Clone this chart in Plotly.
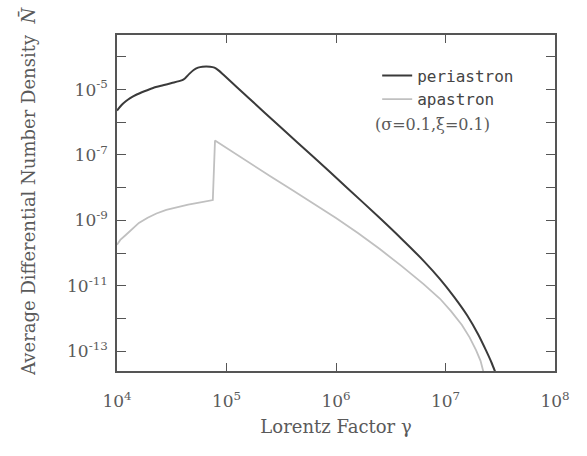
import numpy as np
import plotly.graph_objects as go

# values, as log10 exponents
peri_log_gamma = [4.0, 4.04, 4.08, 4.12, 4.18, 4.25, 4.33, 4.42, 4.5, 4.59, 4.62, 4.66, 4.70, 4.74,
                  4.78, 4.85, 4.89, 4.93, 4.97, 5.2, 5.5, 5.8, 6.1, 6.4, 6.6, 6.8, 6.95, 7.08,
                  7.2, 7.3, 7.37, 7.42, 7.452]
peri_log_N = [-5.64, -5.48, -5.36, -5.26, -5.15, -5.05, -4.95, -4.87, -4.80, -4.72, -4.66, -4.52, -4.40, -4.33,
              -4.30, -4.30, -4.33, -4.42, -4.54, -5.25, -6.17, -7.08, -8.0, -8.93, -9.57, -10.24, -10.8, -11.35,
              -11.92, -12.5, -12.98, -13.35, -13.62]

apa_log_gamma = [4.0, 4.03, 4.08, 4.14, 4.2, 4.28, 4.36, 4.45, 4.55, 4.65, 4.75, 4.85, 4.875,
                 4.895, 5.0, 5.2, 5.4, 5.6, 5.8, 6.0, 6.2, 6.4, 6.6, 6.8, 6.95, 7.05, 7.15,
                 7.22, 7.28, 7.32, 7.345]
apa_log_N = [-9.75, -9.6, -9.45, -9.25, -9.08, -8.92, -8.79, -8.68, -8.59, -8.52, -8.46, -8.40, -8.38,
             -6.56, -6.79, -7.22, -7.65, -8.07, -8.49, -8.93, -9.39, -9.88, -10.40, -10.95, -11.40, -11.78, -12.2,
             -12.58, -12.98, -13.3, -13.62]

x_tick_exps = [4, 5, 6, 7, 8]
y_tick_exps = [-4, -5, -6, -7, -8, -9, -10, -11, -12, -13]
y_labeled = [-5, -7, -9, -11, -13]

def p10(v):
    return np.power(10.0, np.array(v, dtype=float))

axis_col = "#555555"
text_col = "#5a5a5a"
serif = "DejaVu Serif, serif"

fig = go.Figure()
fig.add_trace(go.Scatter(x=p10(peri_log_gamma), y=p10(peri_log_N), mode="lines",
                         name="periastron", line=dict(color="#3a3a3a", width=2, shape="spline", smoothing=0.6)))
fig.add_trace(go.Scatter(x=p10(apa_log_gamma), y=p10(apa_log_N), mode="lines",
                         name="apastron", line=dict(color="#c0c0c0", width=1.8)))

fig.update_layout(
    width=587, height=456,
    margin=dict(l=117, r=32, t=35, b=85),
    paper_bgcolor="white", plot_bgcolor="white",
    showlegend=True,
    legend=dict(x=0.594, y=0.93, xanchor="left", yanchor="top",
                bgcolor="rgba(0,0,0,0)",
                font=dict(family="DejaVu Sans Mono", size=16, color="#444444")),
    annotations=[
        dict(text="(σ=0.1,ξ=0.1)", xref="paper", yref="paper",
             x=0.585, y=0.735, xanchor="left", yanchor="middle", showarrow=False,
             font=dict(family=serif, size=16, color=text_col)),
        dict(text="Average Differential Number Density  <i>N̄</i>", xref="paper", yref="paper",
             x=0, xshift=-89, y=0.533, xanchor="center", yanchor="middle", textangle=-90,
             showarrow=False, font=dict(family=serif, size=18, color=text_col)),
    ],
)

fig.update_xaxes(type="log", range=[4, 8],
                 tickvals=p10(x_tick_exps),
                 ticktext=[f"10<sup>{e}</sup>" for e in x_tick_exps],
                 ticks="inside", ticklen=8, tickwidth=1.3, tickcolor=axis_col,
                 showline=True, linecolor=axis_col, linewidth=1.5, mirror="allticks",
                 showgrid=False, zeroline=False, ticklabelstandoff=14,
                 tickfont=dict(family=serif, size=17, color=text_col),
                 title=dict(text="Lorentz Factor γ", standoff=10,
                            font=dict(family=serif, size=18, color=text_col)))

fig.update_yaxes(type="log", range=[-13.61, -3.33],
                 tickvals=p10(y_tick_exps),
                 ticktext=[f"10<sup>{e}</sup>" if e in y_labeled else "" for e in y_tick_exps],
                 ticks="inside", ticklen=9, tickwidth=1.3, tickcolor=axis_col,
                 showline=True, linecolor=axis_col, linewidth=1.5, mirror="allticks",
                 showgrid=False, zeroline=False, ticklabelstandoff=4,
                 tickfont=dict(family=serif, size=17, color=text_col))

fig.write_html("out.html")
